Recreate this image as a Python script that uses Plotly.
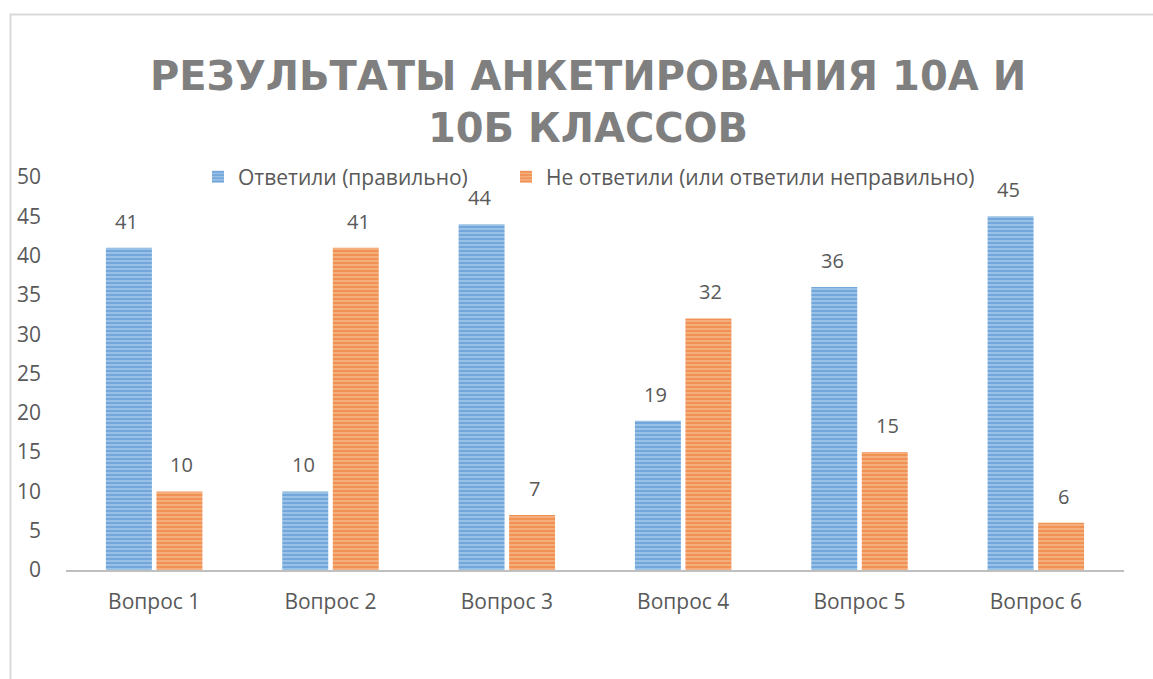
import plotly.graph_objects as go

categories = ["Вопрос 1", "Вопрос 2", "Вопрос 3", "Вопрос 4", "Вопрос 5", "Вопрос 6"]
correct = [41, 10, 44, 19, 36, 45]
wrong = [10, 41, 7, 32, 15, 6]
series_names = ["Ответили (правильно)", "Не ответили (или ответили неправильно)"]
title_text = "РЕЗУЛЬТАТЫ АНКЕТИРОВАНИЯ 10А И<br>10Б КЛАССОВ"

W, H = 1153, 679
L, R, T, B = 66, 29, 177, 109
pw, ph = W - L - R, H - T - B

FONT = "Open Sans"
GRAY = "#595959"

fig = go.Figure()
fig.add_trace(go.Bar(
    x=categories, y=correct, name=series_names[0], legend="legend",
    marker=dict(color="#5B9BD5", line=dict(width=0),
                pattern=dict(shape="-", fgcolor="#4A8BD0", bgcolor="#9DC3E6", size=4, solidity=0.55)),
))
fig.add_trace(go.Bar(
    x=categories, y=wrong, name=series_names[1], legend="legend2",
    marker=dict(color="#ED7D31", line=dict(width=0),
                pattern=dict(shape="-", fgcolor="#EA7425", bgcolor="#F4B183", size=4, solidity=0.55)),
))

annotations = []
for vals, shift in ((correct, -27.5), (wrong, 27.5)):
    for c, v in zip(categories, vals):
        annotations.append(dict(x=c, y=v, text=str(v), showarrow=False, xref="x", yref="y",
                                xshift=shift, yshift=11, yanchor="bottom",
                                font=dict(family=FONT, size=20, color=GRAY)))

def px(x):
    return (x - L) / pw

def py(y):
    return (H - B - y) / ph

shapes = [
    dict(type="line", xref="paper", yref="paper", x0=px(10), x1=px(1160), y0=py(14.5), y1=py(14.5),
         line=dict(color="#D9D9D9", width=2)),
    dict(type="line", xref="paper", yref="paper", x0=px(10.5), x1=px(10.5), y0=py(14), y1=py(690),
         line=dict(color="#D9D9D9", width=2)),
]

legend_common = dict(orientation="h", xanchor="left", y=1.0, yanchor="middle",
                     font=dict(family=FONT, size=21, color=GRAY), bgcolor="rgba(0,0,0,0)")

fig.update_layout(
    width=W, height=H, autosize=False,
    margin=dict(l=L, r=R, t=T, b=B),
    paper_bgcolor="white", plot_bgcolor="white",
    barmode="group", bargap=0.427, bargroupgap=0.09,
    title=dict(text=title_text, x=0.51, xanchor="center", y=1 - 90 / H, yanchor="middle",
               font=dict(family="DejaVu Sans", size=40, color="#7F7F7F", weight="bold")),
    legend=dict(x=px(198), **legend_common),
    legend2=dict(x=px(506), **legend_common),
    xaxis=dict(showline=True, linecolor="#BFBFBF", linewidth=2, showgrid=False, ticks="",
               tickfont=dict(family=FONT, size=21, color=GRAY), fixedrange=True,
               ticklabelstandoff=12),
    yaxis=dict(range=[0, 50], dtick=5, showgrid=False, zeroline=False, showline=False,
               ticks="", tickfont=dict(family=FONT, size=21, color=GRAY), ticklabelstandoff=24),
    annotations=annotations,
    shapes=shapes,
    showlegend=True,
)

fig.write_html("out.html", config={"displayModeBar": False},
               post_script="document.body.style.margin='0';document.body.style.overflow='hidden';")
